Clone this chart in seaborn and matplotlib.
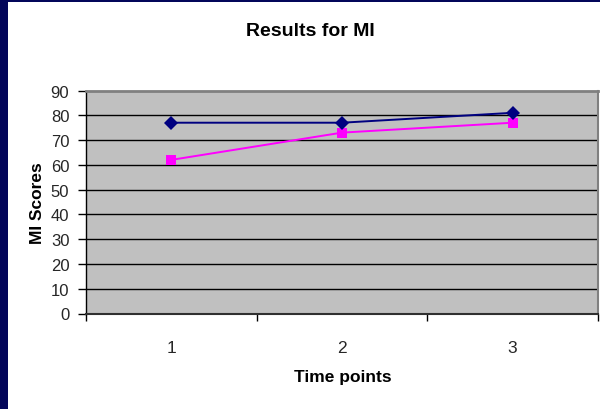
import matplotlib
matplotlib.use("Agg")
import matplotlib.pyplot as plt
import matplotlib.patches as mpatches
from matplotlib.ticker import FixedLocator, NullFormatter, FixedFormatter
import seaborn as sns
import pandas as pd

time_points = ["1", "2", "3"]
series_blue = [77, 77, 81]
series_pink = [62, 73, 77]
y_ticks = [0, 10, 20, 30, 40, 50, 60, 70, 80, 90]

sns.set_theme(style="white")
plt.rcParams['font.family'] = ['Liberation Sans', 'DejaVu Sans']

W, H = 600, 410
fig = plt.figure(figsize=(W / 100, H / 100), dpi=100)
fig.patch.set_facecolor("#03065a")
# white chart area
fig.patches.append(mpatches.Rectangle((8 / W, 0), 1 - 8 / W, 1 - 3 / H,
                                      transform=fig.transFigure, facecolor="white",
                                      edgecolor="none", zorder=-10))

left, right, top, bottom = 86, 598, 91.5, 314.5
ax = fig.add_axes([left / W, 1 - bottom / H, (right - left) / W, (bottom - top) / H])
ax.set_zorder(5)
ax.set_facecolor("#c0c0c0")

df_blue = pd.DataFrame({"t": time_points, "score": series_blue})
df_pink = pd.DataFrame({"t": time_points, "score": series_pink})

sns.lineplot(data=df_blue, x="t", y="score", ax=ax, color="#000080", lw=1.4,
             marker="D", markersize=7, markeredgewidth=0, zorder=4)
sns.lineplot(data=df_pink, x="t", y="score", ax=ax, color="#ff00ff", lw=1.4,
             marker="s", markersize=7.5, markeredgewidth=0, zorder=3)

ax.set_xlim(-0.5, 2.5)
ax.set_ylim(0, 90)
ax.set_yticks(y_ticks)
ax.set_yticklabels([str(v) for v in y_ticks], fontsize=12)
for v in y_ticks[1:-1]:
    ax.axhline(v, color="#000000", lw=1.0, zorder=1)

# x: separators as major ticks, labels on minor ticks
ax.xaxis.set_major_locator(FixedLocator([-0.5, 0.5, 1.5, 2.5]))
ax.xaxis.set_major_formatter(NullFormatter())
ax.xaxis.set_minor_locator(FixedLocator([0, 1, 2]))
ax.xaxis.set_minor_formatter(FixedFormatter(time_points))
ax.tick_params(axis="x", which="major", direction="out", length=5, width=1, color="#000000", bottom=True)
ax.tick_params(axis="x", which="minor", length=0, pad=19, labelsize=12.5, bottom=True)
ax.tick_params(axis="y", direction="out", length=6, width=1, color="#000000", pad=6, left=True)

ax.spines["left"].set_color("#000000")
ax.spines["left"].set_linewidth(1.0)
ax.spines["bottom"].set_color("#303030")
ax.spines["bottom"].set_linewidth(1.5)
ax.spines["top"].set_color("#808080")
ax.spines["top"].set_linewidth(2)
ax.spines["right"].set_color("#808080")
ax.spines["right"].set_linewidth(1.5)

ax.set_xlabel("")
ax.set_ylabel("")
fig.text(310 / W, 1 - 32 / H, "Results for MI", ha="center", va="center",
         fontsize=14, fontweight="bold", color="black")
fig.text(343 / W, 1 - 378 / H, "Time points", ha="center", va="center",
         fontsize=12.5, fontweight="bold", color="black")
fig.text(37 / W, 1 - 203 / H, "MI Scores", ha="center", va="center", rotation=90,
         fontsize=12.5, fontweight="bold", color="black")

fig.savefig("out.png", dpi=100, facecolor=fig.get_facecolor())
